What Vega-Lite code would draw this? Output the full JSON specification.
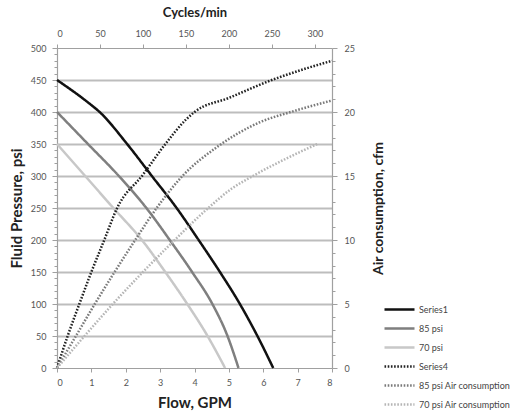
{
  "$schema": "https://vega.github.io/schema/vega-lite/v6.json",
  "autosize": {"type": "none"},
  "width": 275,
  "height": 320,
  "padding": {"left": 57, "top": 48, "right": 182, "bottom": 47},
  "datasets": {
    "pressure": [
      {"series": "Series1", "gpm": 0, "psi": 450},
      {"series": "Series1", "gpm": 0.9, "psi": 415},
      {"series": "Series1", "gpm": 1.24, "psi": 400},
      {"series": "Series1", "gpm": 2.04, "psi": 350},
      {"series": "Series1", "gpm": 2.76, "psi": 300},
      {"series": "Series1", "gpm": 3.48, "psi": 250},
      {"series": "Series1", "gpm": 4.12, "psi": 200},
      {"series": "Series1", "gpm": 4.74, "psi": 150},
      {"series": "Series1", "gpm": 5.32, "psi": 100},
      {"series": "Series1", "gpm": 5.83, "psi": 50},
      {"series": "Series1", "gpm": 6.29, "psi": 0},
      {"series": "85 psi", "gpm": 0, "psi": 400},
      {"series": "85 psi", "gpm": 0.9, "psi": 350},
      {"series": "85 psi", "gpm": 1.8, "psi": 300},
      {"series": "85 psi", "gpm": 2.6, "psi": 250},
      {"series": "85 psi", "gpm": 3.28, "psi": 200},
      {"series": "85 psi", "gpm": 3.93, "psi": 150},
      {"series": "85 psi", "gpm": 4.52, "psi": 100},
      {"series": "85 psi", "gpm": 4.96, "psi": 50},
      {"series": "85 psi", "gpm": 5.28, "psi": 0},
      {"series": "70 psi", "gpm": 0, "psi": 350},
      {"series": "70 psi", "gpm": 0.82, "psi": 300},
      {"series": "70 psi", "gpm": 1.64, "psi": 250},
      {"series": "70 psi", "gpm": 2.47, "psi": 200},
      {"series": "70 psi", "gpm": 3.15, "psi": 150},
      {"series": "70 psi", "gpm": 3.79, "psi": 100},
      {"series": "70 psi", "gpm": 4.38, "psi": 50},
      {"series": "70 psi", "gpm": 4.89, "psi": 0}
    ],
    "air": [
      {"series": "Series4", "cycles": 0, "cfm": 0},
      {"series": "Series4", "cycles": 12.4, "cfm": 2.5},
      {"series": "Series4", "cycles": 26, "cfm": 5},
      {"series": "Series4", "cycles": 40, "cfm": 7.5},
      {"series": "Series4", "cycles": 55, "cfm": 10},
      {"series": "Series4", "cycles": 70, "cfm": 12.5},
      {"series": "Series4", "cycles": 100, "cfm": 15.1},
      {"series": "Series4", "cycles": 125, "cfm": 17.4},
      {"series": "Series4", "cycles": 150, "cfm": 19.4},
      {"series": "Series4", "cycles": 160, "cfm": 20},
      {"series": "Series4", "cycles": 200, "cfm": 21.1},
      {"series": "Series4", "cycles": 250, "cfm": 22.5},
      {"series": "Series4", "cycles": 285, "cfm": 23.3},
      {"series": "Series4", "cycles": 320, "cfm": 24},
      {"series": "85 psi Air consumption", "cycles": 0, "cfm": 0},
      {"series": "85 psi Air consumption", "cycles": 22, "cfm": 2.5},
      {"series": "85 psi Air consumption", "cycles": 44, "cfm": 5},
      {"series": "85 psi Air consumption", "cycles": 67, "cfm": 7.5},
      {"series": "85 psi Air consumption", "cycles": 91, "cfm": 10},
      {"series": "85 psi Air consumption", "cycles": 116, "cfm": 12.5},
      {"series": "85 psi Air consumption", "cycles": 146, "cfm": 15},
      {"series": "85 psi Air consumption", "cycles": 187, "cfm": 17.3},
      {"series": "85 psi Air consumption", "cycles": 236, "cfm": 19.2},
      {"series": "85 psi Air consumption", "cycles": 272, "cfm": 20},
      {"series": "85 psi Air consumption", "cycles": 320, "cfm": 20.9},
      {"series": "70 psi Air consumption", "cycles": 0, "cfm": 0},
      {"series": "70 psi Air consumption", "cycles": 32, "cfm": 2.5},
      {"series": "70 psi Air consumption", "cycles": 65, "cfm": 5},
      {"series": "70 psi Air consumption", "cycles": 100, "cfm": 7.5},
      {"series": "70 psi Air consumption", "cycles": 137, "cfm": 10},
      {"series": "70 psi Air consumption", "cycles": 176, "cfm": 12.5},
      {"series": "70 psi Air consumption", "cycles": 203, "cfm": 14},
      {"series": "70 psi Air consumption", "cycles": 228, "cfm": 15},
      {"series": "70 psi Air consumption", "cycles": 271, "cfm": 16.5},
      {"series": "70 psi Air consumption", "cycles": 303, "cfm": 17.5}
    ]
  },
  "layer": [
    {
      "data": {"name": "pressure"},
      "mark": {"type": "line", "strokeWidth": 2.5, "interpolate": "monotone"},
      "encoding": {
        "x": {
          "field": "gpm", "type": "quantitative",
          "scale": {"domain": [0, 8], "nice": false},
          "axis": {
            "orient": "bottom", "title": "Flow, GPM",
            "values": [0, 1, 2, 3, 4, 5, 6, 7, 8],
            "grid": false, "tickSize": 4, "labelPadding": 6,
            "titleFontSize": 15, "titleX": 137.5, "titleY": 34, "titleBaseline": "middle"
          }
        },
        "y": {
          "field": "psi", "type": "quantitative",
          "scale": {"domain": [0, 500], "nice": false},
          "axis": {
            "orient": "left", "title": "Fluid Pressure, psi",
            "values": [0, 10, 20, 30, 40, 50, 60, 70, 80, 90, 100, 110, 120, 130, 140, 150, 160, 170, 180, 190, 200, 210, 220, 230, 240, 250, 260, 270, 280, 290, 300, 310, 320, 330, 340, 350, 360, 370, 380, 390, 400, 410, 420, 430, 440, 450, 460, 470, 480, 490, 500],
            "labelExpr": "datum.value % 50 === 0 ? datum.label : ''",
            "labelOverlap": false,
            "grid": true,
            "gridColor": {"condition": {"test": "datum.value % 50 === 0 && datum.value > 0 && datum.value < 500", "value": "#bdbdbd"}, "value": "transparent"},
            "gridWidth": 2,
            "tickSize": {"condition": {"test": "datum.value % 50 === 0", "value": 5}, "value": 3},
            "labelPadding": 6,
            "titleFontSize": 15, "titleAngle": -90, "titleX": -41, "titleY": 160, "titleBaseline": "middle", "titleAlign": "center"
          }
        },
        "color": {
          "field": "series", "type": "nominal",
          "scale": {
            "domain": ["Series1", "85 psi", "70 psi", "Series4", "85 psi Air consumption", "70 psi Air consumption"],
            "range": ["#111111", "#7f7f7f", "#c8c8c8", "#222222", "#7a7a7a", "#b5b5b5"]
          },
          "legend": {
            "title": null, "orient": "none", "legendX": 338, "legendY": 257,
            "symbolType": "M-5,0H5", "symbolSize": 36, "symbolStrokeWidth": 2.5,
            "labelFontSize": 9, "labelColor": "#444444", "labelOffset": 15, "rowPadding": 8
          }
        },
        "strokeDash": {
          "field": "series", "type": "nominal",
          "scale": {
            "domain": ["Series1", "85 psi", "70 psi", "Series4", "85 psi Air consumption", "70 psi Air consumption"],
            "range": [[1, 0], [1, 0], [1, 0], [1.6, 1.6], [1.6, 1.6], [1.6, 1.6]]
          },
          "legend": null
        }
      }
    },
    {
      "data": {"name": "air"},
      "mark": {"type": "line", "strokeWidth": 2.5, "interpolate": "monotone"},
      "encoding": {
        "x": {
          "field": "cycles", "type": "quantitative",
          "scale": {"domain": [0, 320], "nice": false},
          "axis": {
            "orient": "top", "title": "Cycles/min",
            "values": [0, 50, 100, 150, 200, 250, 300],
            "grid": false, "tickSize": 4, "labelPadding": 6,
            "titleFontSize": 13, "titleX": 137.5, "titleY": -36, "titleBaseline": "middle"
          }
        },
        "y": {
          "field": "cfm", "type": "quantitative",
          "scale": {"domain": [0, 25], "nice": false},
          "axis": {
            "orient": "right", "title": "Air consumption, cfm",
            "values": [0, 1, 2, 3, 4, 5, 6, 7, 8, 9, 10, 11, 12, 13, 14, 15, 16, 17, 18, 19, 20, 21, 22, 23, 24, 25],
            "labelExpr": "datum.value % 5 === 0 ? datum.label : ''",
            "labelOverlap": false,
            "grid": false,
            "tickSize": {"condition": {"test": "datum.value % 5 === 0", "value": 5}, "value": 3},
            "labelPadding": 7,
            "titleFontSize": 14, "titleAngle": -90, "titleX": 46, "titleY": 160, "titleBaseline": "middle", "titleAlign": "center"
          }
        },
        "color": {"field": "series", "type": "nominal"},
        "strokeDash": {"field": "series", "type": "nominal"}
      }
    }
  ],
  "resolve": {"scale": {"x": "independent", "y": "independent"}},
  "config": {
    "view": {"stroke": null},
    "font": "Lato",
    "axis": {
      "domainColor": "#a0a0a0",
      "domainWidth": 1.2,
      "tickColor": "#a0a0a0",
      "labelFontSize": 9,
      "labelColor": "#555555",
      "titleFont": "Lato",
      "titleFontWeight": "bold",
      "titleColor": "#222222"
    }
  }
}
